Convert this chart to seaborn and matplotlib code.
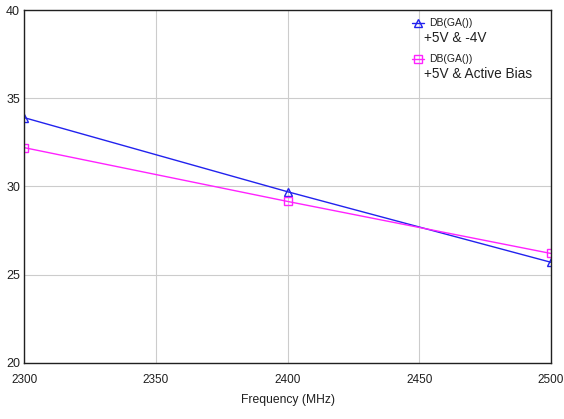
import pandas as pd
import seaborn as sns
import matplotlib.pyplot as plt

sns.set_theme(style="white")
plt.rcParams['font.family'] = ['Liberation Sans', 'DejaVu Sans']

freq = [2300, 2400, 2500]
gain_neg4v = [33.9, 29.7, 25.7]
gain_active = [32.2, 29.15, 26.2]
series_names = ["+5V & -4V", "+5V & Active Bias"]
trace_label = "DB(GA())"

df = pd.DataFrame({
    "Frequency (MHz)": freq * 2,
    "Gain": gain_neg4v + gain_active,
    "Bias": [series_names[0]] * 3 + [series_names[1]] * 3,
})

palette = {series_names[0]: "#2222ee", series_names[1]: "#ff22ff"}
markers = {series_names[0]: "^", series_names[1]: "s"}

fig = plt.figure(figsize=(5.64, 4.19), dpi=100)
ax = fig.add_axes([0.043, 0.134, 0.934, 0.842])

sns.lineplot(data=df, x="Frequency (MHz)", y="Gain", hue="Bias", style="Bias",
             palette=palette, markers=markers, dashes=False, markersize=6,
             markerfacecolor="none", markeredgewidth=1.0, linewidth=1.0,
             ax=ax, legend=False)
for ln, name in zip(ax.lines, series_names):
    ln.set_markeredgecolor(palette[name])

ax.set_xlim(2300, 2500)
ax.set_ylim(20, 40)
ax.set_xticks([2300, 2350, 2400, 2450, 2500])
ax.set_yticks([20, 25, 30, 35, 40])
ax.grid(True, color="#cccccc", linewidth=0.8)
for s in ax.spines.values():
    s.set_color("#202020")
    s.set_linewidth(1.0)
ax.tick_params(axis="x", labelsize=8.5, colors="#202020", length=0, pad=8)
ax.tick_params(axis="y", labelsize=9, colors="#202020", length=0, pad=3)
ax.set_xlabel("Frequency (MHz)", fontsize=8.7, color="#202020", labelpad=6)
ax.set_ylabel("")

# legend-like annotation in upper right
for i, name in enumerate(series_names):
    y0 = 0.963 - i * 0.102
    ax.plot([0.736, 0.759], [y0, y0], transform=ax.transAxes,
            color=palette[name], linewidth=1.0, clip_on=False)
    ax.plot([0.7475], [y0], transform=ax.transAxes, marker=markers[name],
            markersize=6, markerfacecolor="none",
            markeredgecolor=palette[name], clip_on=False)
    ax.text(0.768, y0, trace_label, transform=ax.transAxes, fontsize=7.5,
            va="center", ha="left", color="#202020")
    ax.text(0.759, y0 - 0.043, name, transform=ax.transAxes, fontsize=9.8,
            va="center", ha="left", color="#202020")

fig.savefig("out.png", dpi=100)
